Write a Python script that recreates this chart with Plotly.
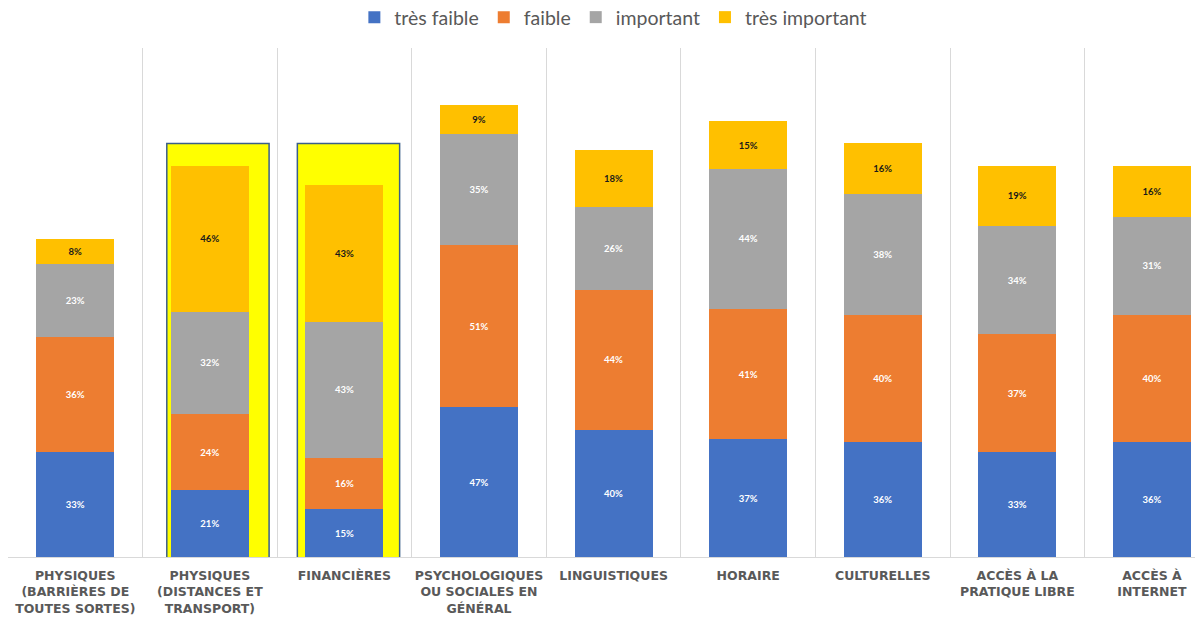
import plotly.graph_objects as go

# Obstacle categories (x axis) and share of answers per level
categories = [
    "PHYSIQUES<br>(BARRIÈRES DE<br>TOUTES SORTES)",
    "PHYSIQUES<br>(DISTANCES ET<br>TRANSPORT)",
    "FINANCIÈRES",
    "PSYCHOLOGIQUES<br>OU SOCIALES EN<br>GÉNÉRAL",
    "LINGUISTIQUES",
    "HORAIRE",
    "CULTURELLES",
    "ACCÈS À LA<br>PRATIQUE LIBRE",
    "ACCÈS À<br>INTERNET",
]
tres_faible = [33, 21, 15, 47, 40, 37, 36, 33, 36]
faible = [36, 24, 16, 51, 44, 41, 40, 37, 40]
important = [23, 32, 43, 35, 26, 44, 38, 34, 31]
tres_important = [8, 46, 43, 9, 18, 15, 16, 19, 16]

# Categories singled out with a yellow frame (index, horizontal nudge)
highlighted = [(1, 0.06), (2, 0.03)]

series = [
    ("très faible", tres_faible, "#4472C4", "white"),
    ("faible", faible, "#ED7D31", "white"),
    ("important", important, "#A5A5A5", "white"),
    ("très important", tres_important, "#FFC000", "#1a1a1a"),
]

fig = go.Figure()
for name, vals, color, tcolor in series:
    fig.add_trace(go.Bar(
        name=name,
        x=categories,
        y=vals,
        marker=dict(color=color, line=dict(width=0)),
        texttemplate="%{y}%",
        textposition="inside",
        insidetextanchor="middle",
        textangle=0,
        textfont=dict(family="Lato", size=9.5, color=tcolor, weight="bold"),
        hoverinfo="skip",
    ))

for i, dx in highlighted:
    fig.add_shape(
        type="rect", xref="x", yref="y",
        x0=i - 0.38 + dx, x1=i + 0.38 + dx, y0=-1.5, y1=130,
        fillcolor="#FFFF00",
        line=dict(color="#3B5F8A", width=1.5),
        layer="below",
    )

fig.update_layout(
    width=1195, height=620,
    barmode="stack",
    bargap=0.42,
    plot_bgcolor="white",
    paper_bgcolor="white",
    margin=dict(l=8, r=0, t=48, b=63, autoexpand=False),
    showlegend=True,
    legend=dict(
        orientation="h",
        x=0.51, xanchor="center",
        y=1.06, yanchor="middle",
        font=dict(family="Lato", size=19.5, color="#595959"),
        itemwidth=30,
        traceorder="normal",
    ),
)

fig.update_xaxes(
    type="category",
    range=[-0.5, 8.32],
    tickson="boundaries",
    showgrid=True,
    gridcolor="#D9D9D9",
    gridwidth=1,
    showline=True,
    linecolor="#D9D9D9",
    linewidth=1,
    ticks="",
    tickangle=0,
    automargin=False,
    ticklabelstandoff=7,
    tickfont=dict(family="DejaVu Sans", size=12.5, color="#595959", weight="bold"),
    fixedrange=True,
)
fig.update_yaxes(
    range=[0, 160],
    visible=False,
    showgrid=False,
    zeroline=False,
    fixedrange=True,
)

fig.write_html("out.html")
